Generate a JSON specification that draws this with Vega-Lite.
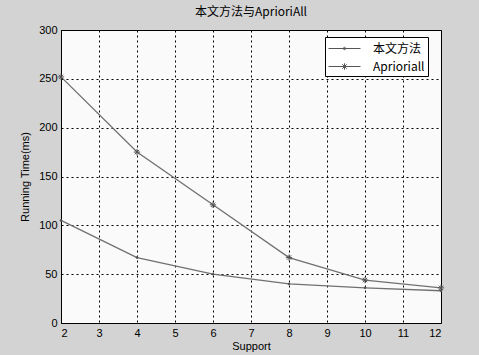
{
  "$schema": "https://vega.github.io/schema/vega-lite/v6.json",
  "width": 380,
  "height": 293,
  "autosize": {"type": "none"},
  "padding": {"left": 61, "top": 30, "right": 38, "bottom": 32},
  "background": "#d3d3d3",
  "title": {"text": "本文方法与AprioriAll", "font": "Noto Sans CJK SC", "fontSize": 12, "fontWeight": "normal", "color": "#000", "offset": 5},
  "config": {
    "view": {"fill": "#fafafa", "stroke": "#000", "strokeWidth": 1},
    "axis": {
      "labelFont": "Liberation Sans", "labelFontSize": 11, "labelColor": "#000",
      "titleFont": "Liberation Sans", "titleFontSize": 11, "titleFontWeight": "normal", "titleColor": "#000",
      "gridColor": "#000", "gridDash": [2, 3], "gridOpacity": 1, "gridWidth": 1,
      "domainColor": "#000", "ticks": false, "labelPadding": 4
    }
  },
  "data": {"values": [
    {"support": 2, "time": 105, "series": "本文方法"},
    {"support": 4, "time": 67, "series": "本文方法"},
    {"support": 6, "time": 50, "series": "本文方法"},
    {"support": 8, "time": 40, "series": "本文方法"},
    {"support": 10, "time": 36, "series": "本文方法"},
    {"support": 12, "time": 33, "series": "本文方法"},
    {"support": 2, "time": 252, "series": "Aprioriall"},
    {"support": 4, "time": 175, "series": "Aprioriall"},
    {"support": 6, "time": 121, "series": "Aprioriall"},
    {"support": 8, "time": 67, "series": "Aprioriall"},
    {"support": 10, "time": 44, "series": "Aprioriall"},
    {"support": 12, "time": 36, "series": "Aprioriall"}
  ]},
  "encoding": {
    "x": {"field": "support", "type": "quantitative", "title": "Support",
          "scale": {"domain": [2, 12], "nice": false},
          "axis": {"values": [2,3,4,5,6,7,8,9,10,11,12], "titlePadding": 2}},
    "y": {"field": "time", "type": "quantitative", "title": "Running Time(ms)",
          "scale": {"domain": [0, 300], "nice": false},
          "axis": {"values": [0,50,100,150,200,250,300], "titlePadding": 8}}
  },
  "layer": [
    {
      "mark": {"type": "line", "color": "#707070", "strokeWidth": 1.3},
      "encoding": {"detail": {"field": "series"}}
    },
    {
      "mark": {"type": "point", "filled": true, "color": "#555", "stroke": "#555", "strokeWidth": 1, "opacity": 1},
      "encoding": {
        "shape": {"field": "series", "type": "nominal",
          "scale": {"domain": ["本文方法", "Aprioriall"],
                    "range": ["M-0.3,0a0.3,0.3 0 1,0 0.6,0a0.3,0.3 0 1,0 -0.6,0", "M-1,0H1M0,-1V1M-0.7,-0.7L0.7,0.7M-0.7,0.7L0.7,-0.7"]},
          "legend": null
        },
        "size": {"value": 40}
      }
    },
    {
      "mark": {"type": "point", "filled": false, "color": "#555", "strokeWidth": 1, "opacity": 0},
      "encoding": {
        "shape": {"field": "series", "type": "nominal",
          "scale": {"domain": ["本文方法", "Aprioriall"],
                    "range": ["M-1,0H3M0.85,0a0.15,0.15 0 1,0 0.3,0a0.15,0.15 0 1,0 -0.3,0", "M-1,0H3M0.6,0H1.4M1,-0.4V0.4M0.72,-0.28L1.28,0.28M0.72,0.28L1.28,-0.28"]},
          "legend": {
            "title": null, "orient": "none", "legendX": 264, "legendY": 7,
            "fillColor": "#ffffff", "strokeColor": "#000", "padding": 3,
            "symbolSize": 256, "symbolStrokeWidth": 1, "symbolStrokeColor": "#555", "symbolFillColor": "#555", "symbolOpacity": 1,
            "labelFont": "Noto Sans CJK SC", "labelFontSize": 12, "labelColor": "#000", "labelLimit": 200,
            "rowPadding": 3, "labelOffset": 28
          }
        }
      }
    }
  ],
  "resolve": {"scale": {"shape": "independent"}, "legend": {"shape": "independent"}}
}
